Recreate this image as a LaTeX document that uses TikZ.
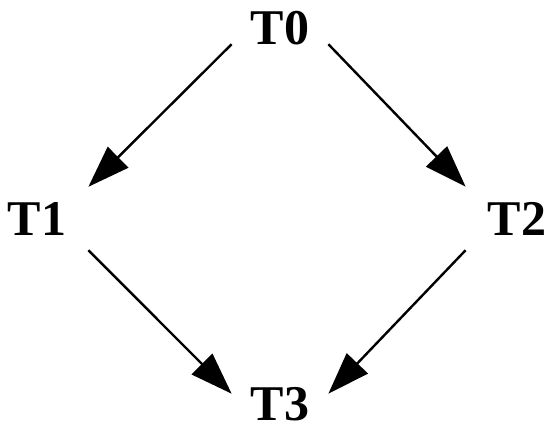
\documentclass[tikz,border=0pt]{standalone}
\usepackage{fontspec}
\setmainfont{Liberation Serif}
\usetikzlibrary{arrows.meta}
\begin{document}
\begin{tikzpicture}[x=1pt,y=-1pt,
  lbl/.style={font=\fontsize{50}{50}\selectfont\bfseries, anchor=base, inner xsep=19pt, inner ysep=15pt, text depth=0pt},
  edge/.style={line width=2.4pt, -{Triangle[length=42pt,width=29pt]}}]
\useasboundingbox (0,0) rectangle (547,432);
\node[lbl, inner ysep=0pt] (T0) at (280,44) {T0};
\node[lbl, inner xsep=22pt] (T1) at (37,235) {T1};
\node[lbl, inner xsep=22pt] (T2) at (517,235) {T2};
\node[lbl, inner ysep=1pt] (T3) at (280,420) {T3};
\draw[edge] (T0.south west) -- (T1.north east);
\draw[edge] (T0.south east) -- (T2.north west);
\draw[edge] (T1.south east) -- ([yshift=-8pt]T3.north west);
\draw[edge] (T2.south west) -- ([yshift=-8pt]T3.north east);
\end{tikzpicture}
\end{document}
